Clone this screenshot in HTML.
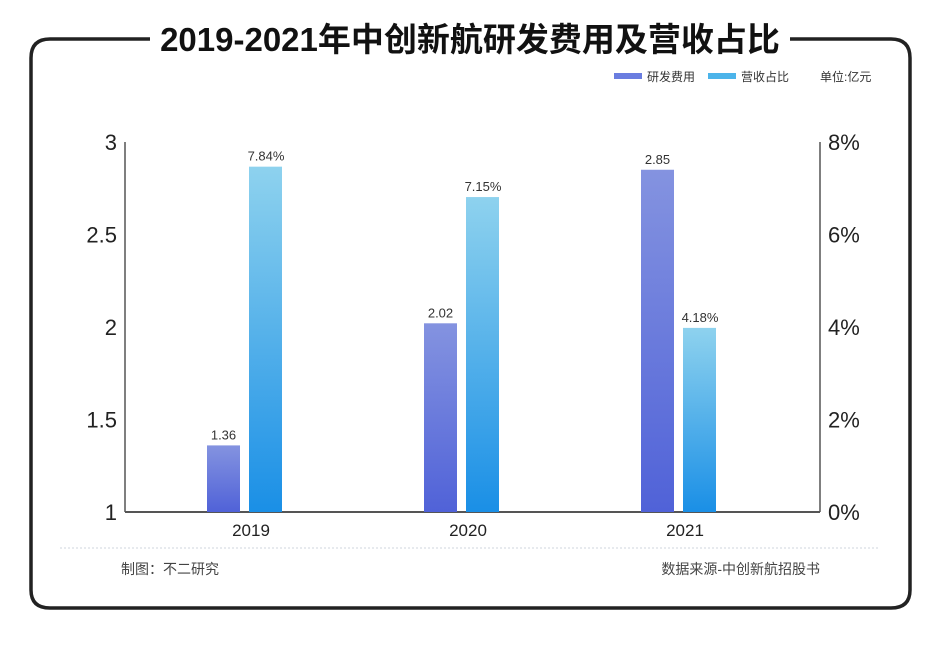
<!DOCTYPE html>
<html><head><meta charset="utf-8"><style>
body{margin:0;background:#fff;}
svg text{font-family:"Liberation Sans","Noto Sans CJK SC",sans-serif;}
</style></head><body>
<svg width="940" height="644" xmlns="http://www.w3.org/2000/svg">
<path d="M150,39 H50 Q31,39 31,58 V590 Q31,608 50,608 H891 Q910,608 910,590 V58 Q910,39 891,39 H790" fill="none" stroke="#222" stroke-width="3.5"/>
<text x="470" y="51" text-anchor="middle" font-size="33" font-weight="bold" fill="#111">2019-2021年中创新航研发费用及营收占比</text>
<rect x="614" y="73" width="28" height="6" fill="#6a7de0"/>
<text x="647" y="81" font-size="12" fill="#333">研发费用</text>
<rect x="708" y="73" width="28" height="6" fill="#4cb4ea"/>
<text x="741" y="81" font-size="12" fill="#333">营收占比</text>
<text x="820" y="81" font-size="12" fill="#333">单位:亿元</text>
<defs>
<linearGradient id="gb" x1="0" y1="0" x2="0" y2="1"><stop offset="0" stop-color="#8493e0"/><stop offset="1" stop-color="#5062d8"/></linearGradient>
<linearGradient id="gc" x1="0" y1="0" x2="0" y2="1"><stop offset="0" stop-color="#8ed2ee"/><stop offset="1" stop-color="#1a8fe6"/></linearGradient>
</defs>
<g id="plot"></g>
<line x1="60" y1="548" x2="880" y2="548" stroke="#cfd6de" stroke-dasharray="2,2"/>
<text x="121" y="574" font-size="14" fill="#444">制图：不二研究</text>
<text x="820" y="574" font-size="14" fill="#444" text-anchor="end">数据来源-中创新航招股书</text>
</svg>
<script>
const categories=["2019","2020","2021"];
const rdValues=[1.36,2.02,2.85];
const ratioValues=[7.84,7.15,4.18];
const leftTicks=[1,1.5,2,2.5,3];
const rightTicks=[0,2,4,6,8];
{
const NS="http://www.w3.org/2000/svg";
const g=document.getElementById('plot');
const yTop=142,yBase=512,xL=125,xR=820;
const yL=v=>yBase-(v-1)/2*(yBase-yTop);
const yR=v=>yBase-v/8.4*(yBase-yTop);
const yTick=(i,n)=>yBase-i/(n-1)*(yBase-yTop);
const cx=i=>251+i*217;
function mk(t,a,txt){const e=document.createElementNS(NS,t);for(const k in a)e.setAttribute(k,a[k]);if(txt!==undefined)e.textContent=txt;g.appendChild(e);return e;}
let e;
e=mk('line',{x1:xL,y1:yTop,x2:xL,y2:yBase,stroke:'#555','stroke-width':1.5});


e=mk('line',{x1:xR,y1:yTop,x2:xR,y2:yBase,stroke:'#555','stroke-width':1.5});


e=mk('line',{x1:xL,y1:yBase,x2:xR,y2:yBase,stroke:'#555','stroke-width':2});


leftTicks.forEach(v=>{e=mk('text',{x:xL-8,y:yL(v)+8,'font-size':22,fill:'#222','text-anchor':'end'},String(v));

});
rightTicks.forEach((v,i)=>{e=mk('text',{x:xR+8,y:yTick(i,rightTicks.length)+8,'font-size':22,fill:'#222'},v+'%');

});
categories.forEach((c,i)=>{
 const x=cx(i);
 e=mk('text',{x:x,y:536,'font-size':17,fill:'#222','text-anchor':'middle'},c);
 
 
 const y1=yL(rdValues[i]);
 e=mk('rect',{x:x-44,y:y1,width:33,height:yBase-y1,fill:'url(#gb)'});
 
 
 e=mk('text',{x:x-27.5,y:y1-6,'font-size':13,fill:'#333','text-anchor':'middle'},rdValues[i].toFixed(2));
 
 
 const y2=yR(ratioValues[i]);
 e=mk('rect',{x:x-2,y:y2,width:33,height:yBase-y2,fill:'url(#gc)'});
 
 
 e=mk('text',{x:x+15,y:y2-6,'font-size':13,fill:'#333','text-anchor':'middle'},ratioValues[i].toFixed(2)+'%');
 
 
});
}
</script>
</body></html>
